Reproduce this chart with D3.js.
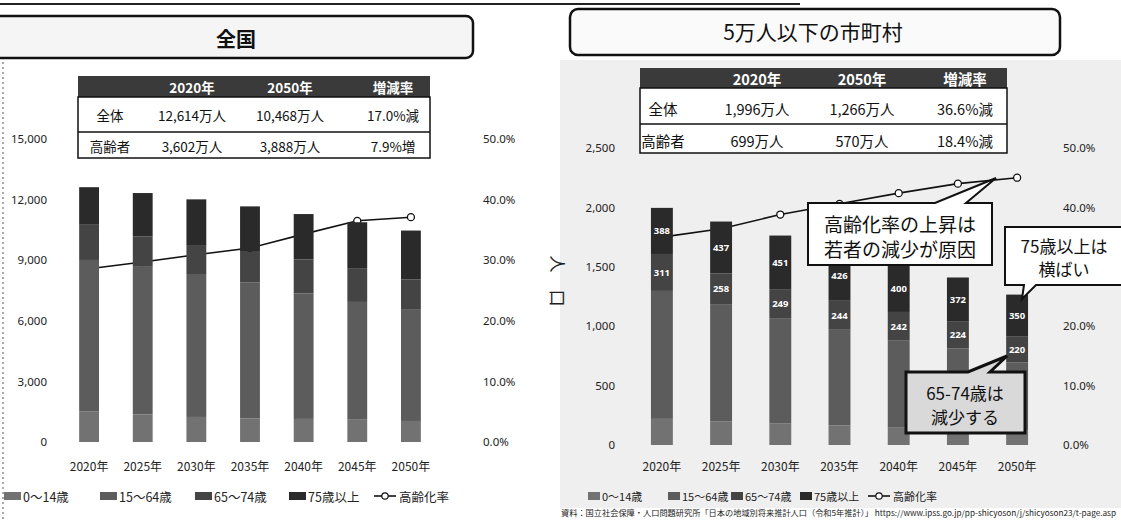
<!DOCTYPE html>
<html><head><meta charset="utf-8">
<script src="https://cdn.jsdelivr.net/npm/d3@7"></script>
<style>
body{margin:0;background:#fff}
svg{display:block;font-family:"Noto Sans CJK JP","Noto Sans",sans-serif}
</style>
</head><body>
<svg id="c" width="1121" height="524"></svg>
<script>
// ---- data ----
const categories = ["2020年","2025年","2030年","2035年","2040年","2045年","2050年"];
const seriesNames = ["0～14歳","15～64歳","65～74歳","75歳以上"];
const rateName = "高齢化率";

// 全国 (万人)
const natAge0_14  = [1503,1363,1240,1169,1142,1103,1041];
const natAge15_64 = [7509,7310,7076,6722,6213,5832,5539];
const natAge65_74 = [1742,1497,1435,1522,1681,1642,1472];
const natAge75    = [1860,2155,2261,2251,2248,2303,2416];
const natRate     = [0.286,0.297,0.309,0.320,0.343,0.365,0.371];

// 5万人以下の市町村 (万人)
const locAge0_14  = [220,200,180,165,150,138,125];
const locAge15_64 = [1077,986,883,805,728,676,571];
const locAge65_74 = [311,258,249,244,242,224,220];
const locAge75    = [388,437,451,426,400,372,350];
const locRate     = [0.350,0.364,0.388,0.406,0.424,0.440,0.450];

const leftTicks  = [0,3000,6000,9000,12000,15000];
const rightTicks = [0,500,1000,1500,2000,2500];
const natPctTicks = [0,0.1,0.2,0.3,0.4,0.5];
const locPctTicks = [0,0.1,0.2,0.4,0.5]; // 30.0% is hidden behind the callout in the original

const tableHeader = ["2020年","2050年","増減率"];
const natTable = [["全体","12,614万人","10,468万人","17.0%減"],["高齢者","3,602万人","3,888万人","7.9%増"]];
const locTable = [["全体","1,996万人","1,266万人","36.6%減"],["高齢者","699万人","570万人","18.4%減"]];

const sourceText = "資料：国立社会保障・人口問題研究所「日本の地域別将来推計人口（令和5年推計）」 https://www.ipss.go.jp/pp-shicyoson/j/shicyoson23/t-page.asp";

// ---- drawing ----
const svg = d3.select("#c");
const colors = ["#727272","#5c5c5c","#444444","#2a2a2a"];
const keys = ["a","b","c","d"];

// background texture approximations
svg.append("rect").attr("x",560).attr("y",60).attr("width",561).attr("height",448).attr("fill","#efefef");
svg.append("line").attr("x1",0).attr("x2",800).attr("y1",4).attr("y2",4).attr("stroke","#222").attr("stroke-width",2);
svg.append("line").attr("x1",3).attr("x2",3).attr("y1",62).attr("y2",520).attr("stroke","#555").attr("stroke-dasharray","2,3");

// title boxes
svg.append("rect").attr("x",-12).attr("y",16).attr("width",485).attr("height",42).attr("rx",7)
  .attr("fill","#f5f5f5").attr("stroke","#111").attr("stroke-width",2.5);
svg.append("text").attr("x",236).attr("y",38).attr("text-anchor","middle").attr("dominant-baseline","central")
  .attr("font-size",20).attr("font-weight","bold").attr("fill","#111").text("全国");
svg.append("rect").attr("x",570).attr("y",9).attr("width",490).attr("height",46).attr("rx",8)
  .attr("fill","#fafafa").attr("stroke","#111").attr("stroke-width",2.5);
svg.append("text").attr("x",813).attr("y",31).attr("text-anchor","middle").attr("dominant-baseline","central")
  .attr("font-size",21).attr("fill","#111").text("5万人以下の市町村");

function table(o, rows){
  const g = svg.append("g");
  g.append("rect").attr("x",o.x0).attr("y",o.y[0]).attr("width",o.x1-o.x0).attr("height",o.y[1]-o.y[0]).attr("fill","#3a3a3a");
  tableHeader.forEach((h,i)=>{
    g.append("text").attr("x",o.cols[i+1]).attr("y",(o.y[0]+o.y[1])/2).attr("text-anchor","middle")
      .attr("dominant-baseline","central").attr("font-size",o.fs).attr("font-weight","bold").attr("fill","#fff").text(h);
  });
  g.append("rect").attr("x",o.x0).attr("y",o.y[1]).attr("width",o.x1-o.x0).attr("height",o.y[3]-o.y[1])
    .attr("fill","#fff").attr("stroke","#111").attr("stroke-width",1.5);
  g.append("line").attr("x1",o.x0).attr("x2",o.x1).attr("y1",o.y[2]).attr("y2",o.y[2]).attr("stroke","#111").attr("stroke-width",1.3);
  rows.forEach((r,ri)=>{
    const cy = o.t[ri];
    r.forEach((c,ci)=>{
      g.append("text").attr("x",o.cols[ci]).attr("y",cy).attr("text-anchor","middle").attr("dominant-baseline","central")
        .attr("font-size",o.fs).attr("fill","#111").text(c);
    });
  });
}
table({x0:78,x1:430,y:[76,97,132,158],t:[115,146],cols:[110,192,290,393],fs:13.5}, natTable);
table({x0:640,x1:1007,y:[68,88,124,153],t:[108,140],cols:[663,757,862,965],fs:14.5}, locTable);

function panel(o){
  const x = d3.scaleBand().domain(categories).range(o.xr).paddingInner(0.63).paddingOuter(0.32);
  const y = d3.scaleLinear().domain([0,o.ticks[o.ticks.length-1]]).range(o.yr);
  const yp = d3.scaleLinear().domain([0,0.5]).range(o.yr);
  const bw = x.bandwidth();

  const gl = svg.append("g").attr("transform",`translate(${o.yAxisX},0)`)
    .call(d3.axisLeft(y).tickValues(o.ticks).tickSize(0).tickPadding(0).tickFormat(d3.format(",")));
  gl.select(".domain").remove();
  gl.selectAll("text").attr("font-size",11.5).attr("fill","#222").attr("font-family","'Noto Sans','DejaVu Sans',sans-serif");

  const gr = svg.append("g").attr("transform",`translate(${o.pAxisX},0)`)
    .call(d3.axisRight(yp).tickValues(o.pticks).tickSize(0).tickPadding(0).tickFormat(d3.format(".1%")));
  gr.select(".domain").remove();
  gr.selectAll("text").attr("font-size",11.5).attr("fill","#222").attr("font-family","'Noto Sans','DejaVu Sans',sans-serif");

  const gb = svg.append("g").attr("transform",`translate(0,${o.xAxisY})`)
    .call(d3.axisBottom(x).tickSize(0).tickPadding(0));
  gb.select(".domain").remove();
  gb.selectAll("text").attr("font-size",12).attr("fill","#222").attr("font-family","'Noto Sans CJK JP',sans-serif");

  // line (drawn behind the bars, as in the original)
  const line = d3.line().x((d,i)=>x(categories[i])+bw/2).y(d=>yp(d));
  svg.append("path").datum(o.rate).attr("d",line).attr("fill","none").attr("stroke","#111").attr("stroke-width",1.6);
  svg.append("g").selectAll("circle").data(o.rate).join("circle")
    .attr("cx",(d,i)=>x(categories[i])+bw/2).attr("cy",d=>yp(d)).attr("r",3.5)
    .attr("fill","#fff").attr("stroke","#111").attr("stroke-width",1.3);

  const rows = categories.map((c,i)=>({cat:c,a:o.s[0][i],b:o.s[1][i],c:o.s[2][i],d:o.s[3][i]}));
  const stack = d3.stack().keys(keys)(rows);
  const gs = svg.append("g");
  stack.forEach((layer,li)=>{
    gs.append("g").attr("fill",colors[li]).selectAll("rect").data(layer).join("rect")
      .attr("x",d=>x(d.data.cat)).attr("width",bw)
      .attr("y",d=>y(d[1])).attr("height",d=>y(d[0])-y(d[1]));
  });
  if(o.labels){
    [2,3].forEach(li=>{
      gs.append("g").selectAll("text").data(stack[li]).join("text")
        .attr("x",d=>x(d.data.cat)+bw/2).attr("y",d=>(y(d[0])+y(d[1]))/2)
        .attr("text-anchor","middle").attr("dominant-baseline","central")
        .attr("font-size",9.5).attr("font-weight","bold").attr("fill","#fff")
        .attr("font-family","'Noto Sans',sans-serif")
        .text(d=>d3.format(",")(d.data[keys[li]]));
    });
  }
}

panel({xr:[62,438],yr:[442,139],ticks:leftTicks,pticks:natPctTicks,yAxisX:47,pAxisX:483,xAxisY:462,
  s:[natAge0_14,natAge15_64,natAge65_74,natAge75],rate:natRate,labels:false});
panel({xr:[632,1047],yr:[445,148],ticks:rightTicks,pticks:locPctTicks,yAxisX:615,pAxisX:1063,xAxisY:462,
  s:[locAge0_14,locAge15_64,locAge65_74,locAge75],rate:locRate,labels:true});

// y-axis title (right panel)
svg.append("text").attr("transform","translate(558,281) rotate(90)").attr("text-anchor","middle")
  .attr("dominant-baseline","central").attr("font-size",17).attr("fill","#222").text("人　口");

// callouts
svg.append("path").attr("d","M808,203 L935,203 L996,178 L966,203 L992,203 L992,265 L808,265 Z")
  .attr("fill","#fff").attr("stroke","#111").attr("stroke-width",2);
svg.append("text").attr("x",900).attr("y",223).attr("text-anchor","middle").attr("dominant-baseline","central")
  .attr("font-size",19).attr("fill","#111").text("高齢化率の上昇は");
svg.append("text").attr("x",900).attr("y",248).attr("text-anchor","middle").attr("dominant-baseline","central")
  .attr("font-size",19).attr("fill","#111").text("若者の減少が原因");

svg.append("path").attr("d","M1005,227 L1125,227 L1125,285 L1036,285 L1022,299 L1024,285 L1005,285 Z")
  .attr("fill","#fff").attr("stroke","#111").attr("stroke-width",2);
svg.append("text").attr("x",1064).attr("y",245).attr("text-anchor","middle").attr("dominant-baseline","central")
  .attr("font-size",17).attr("fill","#111").text("75歳以上は");
svg.append("text").attr("x",1064).attr("y",268).attr("text-anchor","middle").attr("dominant-baseline","central")
  .attr("font-size",17).attr("fill","#111").text("横ばい");

svg.append("path").attr("d","M906,372 L968,372 L1007,356 L990,372 L1025,372 L1025,433 L906,433 Z")
  .attr("fill","#d9d9d9").attr("stroke","#111").attr("stroke-width",3);
svg.append("text").attr("x",965).attr("y",392).attr("text-anchor","middle").attr("dominant-baseline","central")
  .attr("font-size",17).attr("fill","#111").text("65-74歳は");
svg.append("text").attr("x",965).attr("y",416).attr("text-anchor","middle").attr("dominant-baseline","central")
  .attr("font-size",17).attr("fill","#111").text("減少する");

// legends
function legend(o){
  const g = svg.append("g");
  seriesNames.forEach((n,i)=>{
    g.append("rect").attr("x",o.sw[i]).attr("y",o.y-4).attr("width",o.w).attr("height",8).attr("fill",colors[i]);
    g.append("text").attr("x",o.sw[i]+o.w+2).attr("y",o.y).attr("dominant-baseline","central")
      .attr("font-size",o.fs).attr("fill","#222").text(n);
  });
  const lx = o.sw[4];
  g.append("line").attr("x1",lx).attr("x2",lx+22).attr("y1",o.y).attr("y2",o.y).attr("stroke","#111").attr("stroke-width",1.6);
  g.append("circle").attr("cx",lx+11).attr("cy",o.y).attr("r",3.2).attr("fill","#fff").attr("stroke","#111").attr("stroke-width",1.2);
  g.append("text").attr("x",lx+25).attr("y",o.y).attr("dominant-baseline","central").attr("font-size",o.fs).attr("fill","#222").text(rateName);
}
legend({sw:[4,100,195,289,374],y:496,w:17,fs:12.5});
legend({sw:[588,668,731,800,868],y:496,w:12,fs:11});

svg.append("text").attr("x",561).attr("y",516).attr("font-size",8).attr("fill","#222")
  .attr("textLength",555).attr("lengthAdjust","spacingAndGlyphs").text(sourceText);
</script>
</body></html>
